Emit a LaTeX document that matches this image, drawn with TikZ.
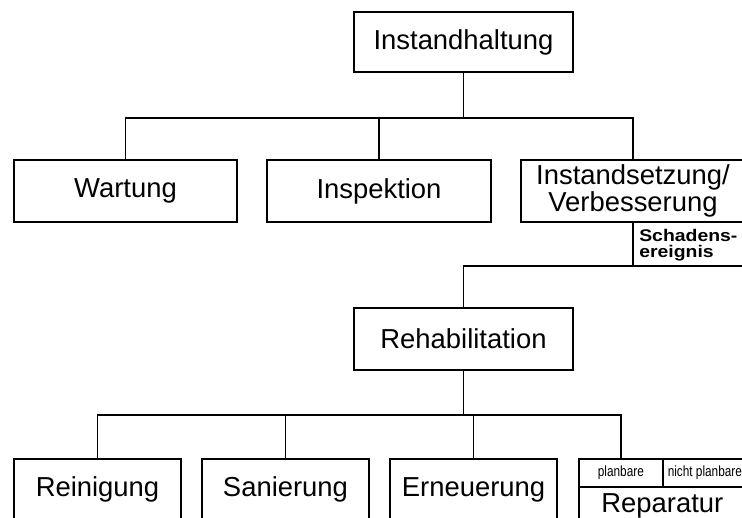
\documentclass[tikz,border=0pt]{standalone}
\usepackage{fontspec}
\setmainfont{Liberation Sans}
\newfontfamily\breitfont[FakeStretch=1.15]{Liberation Sans}
\newfontfamily\schmalfont[FakeStretch=0.8]{Liberation Sans}

\begin{document}
\begin{tikzpicture}[x=0.025cm,y=-0.025cm,
		kasten/.style={draw,line width=1.2pt,inner sep=0pt,align=center,minimum height=1.55cm,font=\fontsize{19.5}{19.5}\selectfont},
		unten/.style={kasten,anchor=north,minimum width=4.175cm,minimum height=0pt,text height=27pt,text depth=28pt},
		zelle/.style={draw,line width=1.2pt,inner sep=0pt,anchor=north west,minimum width=2.1cm,minimum height=0.7cm,font=\schmalfont\fontsize{10.5}{10.5}\selectfont},
		linie/.style={line width=1.1pt}]
		
		\useasboundingbox (0,0) rectangle (742,518);
		\clip (0,0) rectangle (742,518);
		
		% obere Ebene
		\node[kasten,minimum width=5.475cm,minimum height=1.5cm] (haltung) at (463.5,42) {Instandhaltung};
		\node[kasten,minimum width=5.575cm] (wartung) at (125.5,191) {Wartung};
		\node[kasten,minimum width=5.6cm] (inspektion) at (379,191) {Inspektion};
		\node[kasten,minimum width=5.6cm] (setzung) at (633,191) {Instandsetzung/\\Verbesserung};
		
		\node[anchor=west,inner sep=0pt,align=left,font=\breitfont\bfseries\fontsize{12}{11.5}\selectfont] (schaden) at (639,245) {Schadens-\\ereignis};
		
		% mittlere Ebene
		\node[kasten,minimum width=5.475cm] (reha) at (463.5,339) {Rehabilitation};
		
		% untere Ebene
		\node[unten] (reinigung) at (97.5,458) {Reinigung};
		\node[unten] (sanierung) at (285.5,458) {Sanierung};
		\node[unten] (erneuerung) at (473.5,458) {Erneuerung};
		\node[zelle] (plan) at (578,458) {planbare};
		\node[zelle] (nplan) at (662,458) {nicht planbare\hspace{5pt}};
		\node[unten,anchor=north west,text height=18pt,text depth=30pt] (reparatur) at (578,486) {Reparatur};
		
		% Verbindungen
		\coordinate (ast1) at (0,118);
		\coordinate (ast2) at (0,266);
		\coordinate (ast3) at (0,415);
		\coordinate (rechts) at (760,266);
		
		\draw[linie] (haltung.south) -- (haltung.south |- ast1);
		\draw[linie] (wartung.north) -- (wartung.north |- ast1) -- (setzung.north |- ast1) -- (setzung.north);
		\draw[linie] (inspektion.north) -- (inspektion.north |- ast1);
		
		\draw[linie] (setzung.south) -- (setzung.south |- ast2);
		\draw[linie] (reha.north) -- (reha.north |- ast2) -- (rechts);
		
		\draw[linie] (reha.south) -- (reha.south |- ast3);
		\draw[linie] (reinigung.north) -- (reinigung.north |- ast3) -- (plan.north |- ast3) -- (plan.north);
		\draw[linie] (sanierung.north) -- (sanierung.north |- ast3);
		\draw[linie] (erneuerung.north) -- (erneuerung.north |- ast3);
\end{tikzpicture}
\end{document}
